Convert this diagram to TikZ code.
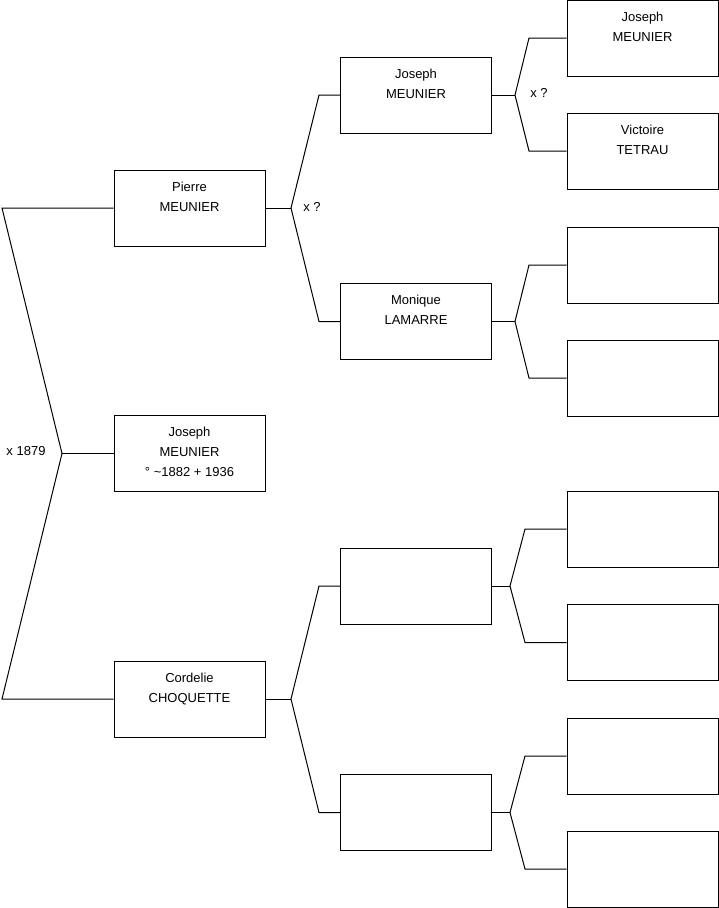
\documentclass[tikz,border=0pt]{standalone}
\usepackage{fontspec}
\setmainfont{Liberation Sans}
\begin{document}
\begin{tikzpicture}[x=1pt,y=-1pt,
  person/.style={draw, line width=1pt, minimum width=151pt, minimum height=76pt, inner sep=0pt},
  ptext/.style={anchor=north, align=center, inner sep=0pt, font=\fontsize{13}{20}\selectfont},
  lab/.style={inner sep=0pt, font=\fontsize{13}{14}\selectfont},
  conn/.style={line width=1pt}]
\useasboundingbox (0,0) rectangle (719,908);
% generation 1
\node[person] (g1) at (189.5,453.5) {};
% generation 2
\node[person] (p) at (189.5,208) {};
\node[person] (m) at (189.5,699) {};
% generation 3
\node[person] (pp) at (416,95) {};
\node[person] (pm) at (416,321.5) {};
\node[person] (mp) at (416,586) {};
\node[person] (mm) at (416,812.5) {};
% generation 4
\node[person] (ppp) at (642.5,38) {};
\node[person] (ppm) at (642.5,151) {};
\node[person] (pmp) at (642.5,265) {};
\node[person] (pmm) at (642.5,378) {};
\node[person] (mpp) at (642.5,529) {};
\node[person] (mpm) at (642.5,642.5) {};
\node[person] (mmp) at (642.5,756) {};
\node[person] (mmm) at (642.5,869) {};
% texts
\node[ptext] (t1) at ([yshift=-12pt]g1.north) {Joseph\\MEUNIER\\° \textasciitilde1882 + 1936};
\node[ptext] (t2) at ([yshift=-12pt]p.north) {Pierre\\MEUNIER};
\node[ptext] (t3) at ([yshift=-12pt]m.north) {Cordelie\\CHOQUETTE};
\node[ptext] (t4) at ([yshift=-12pt]pp.north) {Joseph\\MEUNIER};
\node[ptext] (t5) at ([yshift=-12pt]pm.north) {Monique\\LAMARRE};
\node[ptext] (t6) at ([yshift=-12pt]ppp.north) {Joseph\\MEUNIER};
\node[ptext] (t7) at ([yshift=-12pt]ppm.north) {Victoire\\TETRAU};
% junction coordinates
\coordinate (j1) at (62,453.5);
\coordinate (j1a) at (2,208);
\coordinate (j1b) at (2,699);
\coordinate (j2) at (291,208);
\coordinate (j2a) at (319,95);
\coordinate (j2b) at (319,321.5);
\coordinate (j3) at (291,699);
\coordinate (j3a) at (319,586);
\coordinate (j3b) at (319,812.5);
\coordinate (j4) at (515,95);
\coordinate (j4a) at (529,38);
\coordinate (j4b) at (529,151);
\coordinate (j5) at (515,321.5);
\coordinate (j5a) at (529,265);
\coordinate (j5b) at (529,378);
\coordinate (j6) at (510,586);
\coordinate (j6a) at (525,529);
\coordinate (j6b) at (525,642.5);
\coordinate (j7) at (510,812.5);
\coordinate (j7a) at (525,756);
\coordinate (j7b) at (525,869);
% connectors
\draw[conn] (g1.west) -- (j1);
\draw[conn] (p.west) -- (j1a) -- (j1) -- (j1b) -- (m.west);
\draw[conn] (p.east) -- (j2);
\draw[conn] (pp.west) -- (j2a) -- (j2) -- (j2b) -- (pm.west);
\draw[conn] (m.east) -- (j3);
\draw[conn] (mp.west) -- (j3a) -- (j3) -- (j3b) -- (mm.west);
\draw[conn] (pp.east) -- (j4);
\draw[conn] (ppp.west) -- (j4a) -- (j4) -- (j4b) -- (ppm.west);
\draw[conn] (pm.east) -- (j5);
\draw[conn] (pmp.west) -- (j5a) -- (j5) -- (j5b) -- (pmm.west);
\draw[conn] (mp.east) -- (j6);
\draw[conn] (mpp.west) -- (j6a) -- (j6) -- (j6b) -- (mpm.west);
\draw[conn] (mm.east) -- (j7);
\draw[conn] (mmp.west) -- (j7a) -- (j7) -- (j7b) -- (mmm.west);
% marriage labels
\node[lab] (l1) at (26,451.5) {x 1879};
\node[lab] (l2) at (312,207) {x ?};
\node[lab] (l3) at (539,92.5) {x ?};
\end{tikzpicture}
\end{document}
